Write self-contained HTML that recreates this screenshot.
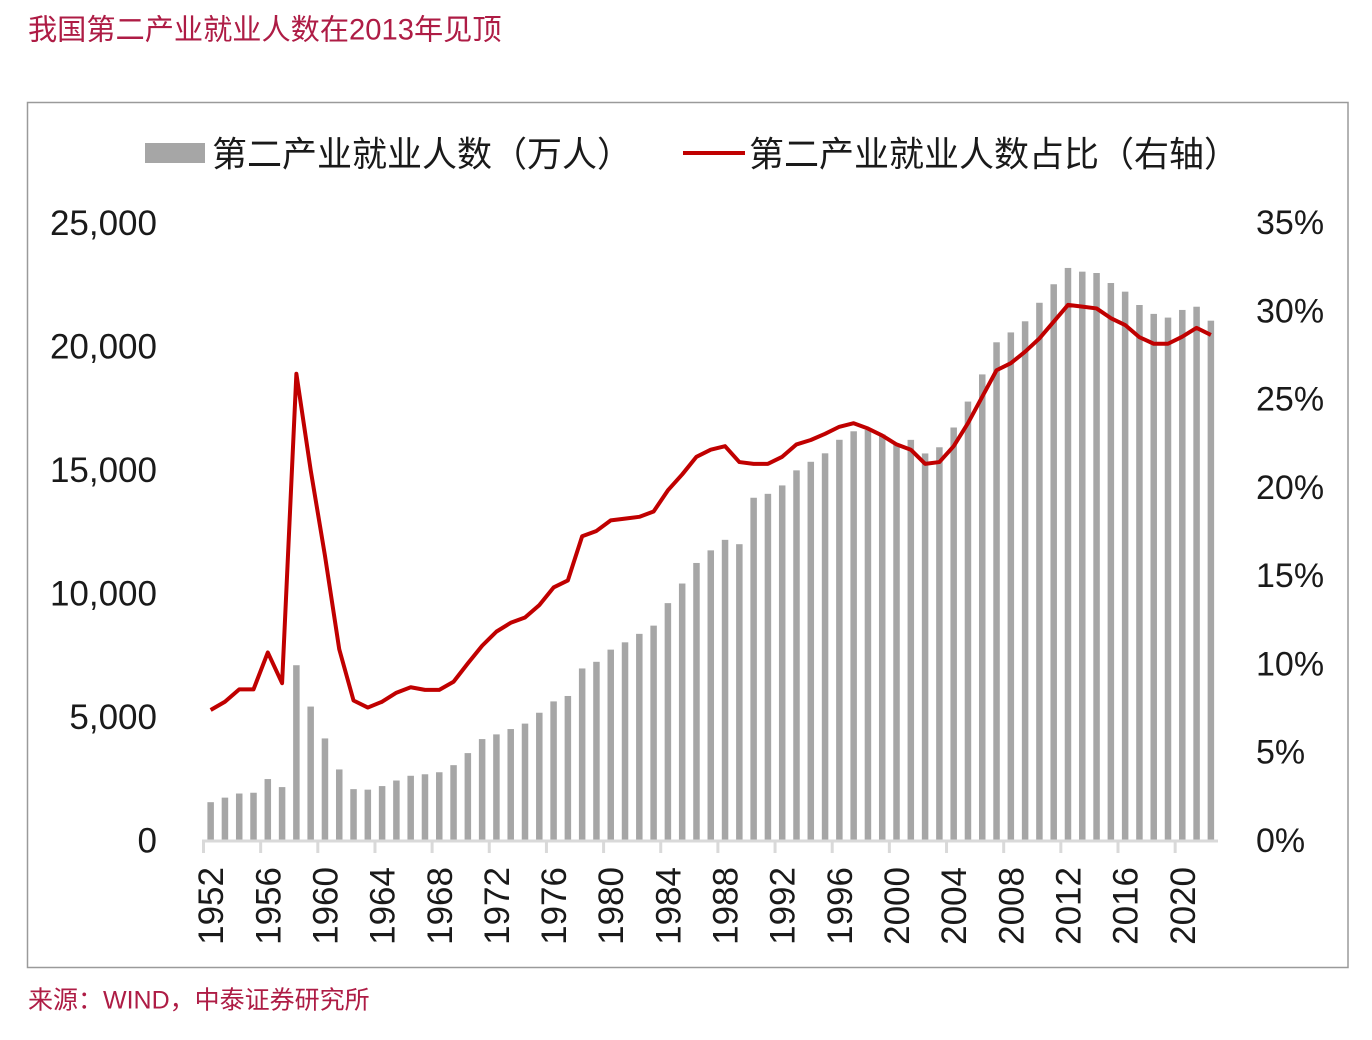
<!DOCTYPE html>
<html>
<head>
<meta charset="utf-8">
<style>
  html,body{margin:0;padding:0;background:#ffffff;}
  body{width:1372px;height:1040px;overflow:hidden;}
  svg{display:block;}
  .t{font-family:"Liberation Sans","Noto Sans CJK SC",sans-serif;}
</style>
</head>
<body>
<svg width="1372" height="1040" viewBox="0 0 1372 1040" xmlns="http://www.w3.org/2000/svg">
  <rect x="0" y="0" width="1372" height="1040" fill="#ffffff"/>

  <text class="t" x="28" y="39.5" font-size="29.2" fill="#ae1c45">我国第二产业就业人数在2013年见顶</text>

  <rect x="27.5" y="102.5" width="1320.5" height="865" fill="none" stroke="#9a9a9a" stroke-width="1.5"/>

  <rect x="145" y="143" width="60" height="20" fill="#a6a6a6"/>
  <text class="t" x="212" y="166.5" font-size="35" fill="#1a1a1a">第二产业就业人数（万人）</text>
  <line x1="683" y1="153" x2="745" y2="153" stroke="#c00000" stroke-width="4"/>
  <text class="t" x="749" y="166.5" font-size="35" fill="#1a1a1a">第二产业就业人数占比（右轴）</text>

  <g class="t" font-size="35" fill="#1a1a1a" text-anchor="end">
    <text x="157" y="235">25,000</text>
    <text x="157" y="358.5">20,000</text>
    <text x="157" y="482">15,000</text>
    <text x="157" y="605.5">10,000</text>
    <text x="157" y="729">5,000</text>
    <text x="157" y="852.5">0</text>
  </g>

  <g class="t" font-size="34" fill="#1a1a1a" text-anchor="start">
    <text x="1256" y="234">35%</text>
    <text x="1256" y="322.5">30%</text>
    <text x="1256" y="410.5">25%</text>
    <text x="1256" y="499">20%</text>
    <text x="1256" y="587">15%</text>
    <text x="1256" y="675.5">10%</text>
    <text x="1256" y="763.5">5%</text>
    <text x="1256" y="852">0%</text>
  </g>

  <g transform="translate(203.5,840) scale(14.289,-0.0247)" fill="#a6a6a6">
    <rect x="0.2725" width="0.455" height="1531"/>
    <rect x="1.2725" width="0.455" height="1715"/>
    <rect x="2.2725" width="0.455" height="1882"/>
    <rect x="3.2725" width="0.455" height="1913"/>
    <rect x="4.2725" width="0.455" height="2468"/>
    <rect x="5.2725" width="0.455" height="2142"/>
    <rect x="6.2725" width="0.455" height="7076"/>
    <rect x="7.2725" width="0.455" height="5402"/>
    <rect x="8.2725" width="0.455" height="4112"/>
    <rect x="9.2725" width="0.455" height="2856"/>
    <rect x="10.2725" width="0.455" height="2059"/>
    <rect x="11.2725" width="0.455" height="2038"/>
    <rect x="12.2725" width="0.455" height="2183"/>
    <rect x="13.2725" width="0.455" height="2408"/>
    <rect x="14.2725" width="0.455" height="2600"/>
    <rect x="15.2725" width="0.455" height="2661"/>
    <rect x="16.2725" width="0.455" height="2743"/>
    <rect x="17.2725" width="0.455" height="3030"/>
    <rect x="18.2725" width="0.455" height="3518"/>
    <rect x="19.2725" width="0.455" height="4086"/>
    <rect x="20.2725" width="0.455" height="4276"/>
    <rect x="21.2725" width="0.455" height="4492"/>
    <rect x="22.2725" width="0.455" height="4712"/>
    <rect x="23.2725" width="0.455" height="5152"/>
    <rect x="24.2725" width="0.455" height="5611"/>
    <rect x="25.2725" width="0.455" height="5831"/>
    <rect x="26.2725" width="0.455" height="6945"/>
    <rect x="27.2725" width="0.455" height="7214"/>
    <rect x="28.2725" width="0.455" height="7707"/>
    <rect x="29.2725" width="0.455" height="8003"/>
    <rect x="30.2725" width="0.455" height="8346"/>
    <rect x="31.2725" width="0.455" height="8679"/>
    <rect x="32.2725" width="0.455" height="9590"/>
    <rect x="33.2725" width="0.455" height="10384"/>
    <rect x="34.2725" width="0.455" height="11216"/>
    <rect x="35.2725" width="0.455" height="11726"/>
    <rect x="36.2725" width="0.455" height="12152"/>
    <rect x="37.2725" width="0.455" height="11976"/>
    <rect x="38.2725" width="0.455" height="13856"/>
    <rect x="39.2725" width="0.455" height="14015"/>
    <rect x="40.2725" width="0.455" height="14355"/>
    <rect x="41.2725" width="0.455" height="14965"/>
    <rect x="42.2725" width="0.455" height="15312"/>
    <rect x="43.2725" width="0.455" height="15655"/>
    <rect x="44.2725" width="0.455" height="16203"/>
    <rect x="45.2725" width="0.455" height="16547"/>
    <rect x="46.2725" width="0.455" height="16600"/>
    <rect x="47.2725" width="0.455" height="16421"/>
    <rect x="48.2725" width="0.455" height="16000"/>
    <rect x="49.2725" width="0.455" height="16200"/>
    <rect x="50.2725" width="0.455" height="15650"/>
    <rect x="51.2725" width="0.455" height="15900"/>
    <rect x="52.2725" width="0.455" height="16700"/>
    <rect x="53.2725" width="0.455" height="17750"/>
    <rect x="54.2725" width="0.455" height="18850"/>
    <rect x="55.2725" width="0.455" height="20150"/>
    <rect x="56.2725" width="0.455" height="20550"/>
    <rect x="57.2725" width="0.455" height="21000"/>
    <rect x="58.2725" width="0.455" height="21750"/>
    <rect x="59.2725" width="0.455" height="22500"/>
    <rect x="60.2725" width="0.455" height="23160"/>
    <rect x="61.2725" width="0.455" height="23010"/>
    <rect x="62.2725" width="0.455" height="22955"/>
    <rect x="63.2725" width="0.455" height="22550"/>
    <rect x="64.2725" width="0.455" height="22200"/>
    <rect x="65.2725" width="0.455" height="21660"/>
    <rect x="66.2725" width="0.455" height="21300"/>
    <rect x="67.2725" width="0.455" height="21150"/>
    <rect x="68.2725" width="0.455" height="21460"/>
    <rect x="69.2725" width="0.455" height="21590"/>
    <rect x="70.2725" width="0.455" height="21025"/>
  </g>

  <g stroke="#d9d9d9" stroke-width="3" fill="none">
    <line x1="202" y1="841" x2="1218" y2="841"/>
    <line x1="203.5" y1="840" x2="203.5" y2="853"/>
    <line x1="260.66" y1="840" x2="260.66" y2="853"/>
    <line x1="317.81" y1="840" x2="317.81" y2="853"/>
    <line x1="374.97" y1="840" x2="374.97" y2="853"/>
    <line x1="432.12" y1="840" x2="432.12" y2="853"/>
    <line x1="489.28" y1="840" x2="489.28" y2="853"/>
    <line x1="546.44" y1="840" x2="546.44" y2="853"/>
    <line x1="603.59" y1="840" x2="603.59" y2="853"/>
    <line x1="660.75" y1="840" x2="660.75" y2="853"/>
    <line x1="717.9" y1="840" x2="717.9" y2="853"/>
    <line x1="775.06" y1="840" x2="775.06" y2="853"/>
    <line x1="832.22" y1="840" x2="832.22" y2="853"/>
    <line x1="889.37" y1="840" x2="889.37" y2="853"/>
    <line x1="946.53" y1="840" x2="946.53" y2="853"/>
    <line x1="1003.68" y1="840" x2="1003.68" y2="853"/>
    <line x1="1060.84" y1="840" x2="1060.84" y2="853"/>
    <line x1="1118.0" y1="840" x2="1118.0" y2="853"/>
    <line x1="1175.15" y1="840" x2="1175.15" y2="853"/>
  </g>

  <g transform="translate(203.5,840) scale(14.289,-17.66)">
    <polyline fill="none" stroke="#c00000" stroke-width="4" stroke-linejoin="round" vector-effect="non-scaling-stroke"
      points="0.5,7.36 1.5,7.83 2.5,8.53 3.5,8.53 4.5,10.62 5.5,8.88 6.5,26.4 7.5,20.95 8.5,16.1 9.5,10.8 10.5,7.9 11.5,7.5 12.5,7.83 13.5,8.34 14.5,8.65 15.5,8.5 16.5,8.5 17.5,8.96 18.5,10.0 19.5,11.0 20.5,11.8 21.5,12.3 22.5,12.6 23.5,13.3 24.5,14.3 25.5,14.7 26.5,17.2 27.5,17.5 28.5,18.1 29.5,18.2 30.5,18.3 31.5,18.6 32.5,19.8 33.5,20.7 34.5,21.7 35.5,22.1 36.5,22.3 37.5,21.4 38.5,21.3 39.5,21.3 40.5,21.7 41.5,22.4 42.5,22.65 43.5,23.0 44.5,23.4 45.5,23.6 46.5,23.3 47.5,22.9 48.5,22.4 49.5,22.1 50.5,21.3 51.5,21.4 52.5,22.3 53.5,23.6 54.5,25.1 55.5,26.6 56.5,27.0 57.5,27.65 58.5,28.4 59.5,29.35 60.5,30.3 61.5,30.2 62.5,30.1 63.5,29.55 64.5,29.16 65.5,28.47 66.5,28.1 67.5,28.1 68.5,28.5 69.5,29.0 70.5,28.6"/>
  </g>

  <g class="t" font-size="35" fill="#1a1a1a" text-anchor="end">
    <text transform="translate(223.1,867) rotate(-90)">1952</text>
    <text transform="translate(280.3,867) rotate(-90)">1956</text>
    <text transform="translate(337.5,867) rotate(-90)">1960</text>
    <text transform="translate(394.6,867) rotate(-90)">1964</text>
    <text transform="translate(451.8,867) rotate(-90)">1968</text>
    <text transform="translate(508.9,867) rotate(-90)">1972</text>
    <text transform="translate(566.1,867) rotate(-90)">1976</text>
    <text transform="translate(623.2,867) rotate(-90)">1980</text>
    <text transform="translate(680.4,867) rotate(-90)">1984</text>
    <text transform="translate(737.6,867) rotate(-90)">1988</text>
    <text transform="translate(794.7,867) rotate(-90)">1992</text>
    <text transform="translate(851.9,867) rotate(-90)">1996</text>
    <text transform="translate(909.0,867) rotate(-90)">2000</text>
    <text transform="translate(966.2,867) rotate(-90)">2004</text>
    <text transform="translate(1023.3,867) rotate(-90)">2008</text>
    <text transform="translate(1080.5,867) rotate(-90)">2012</text>
    <text transform="translate(1137.7,867) rotate(-90)">2016</text>
    <text transform="translate(1194.8,867) rotate(-90)">2020</text>
  </g>

  <text class="t" x="28" y="1008.5" font-size="25" fill="#ae1c45">来源：WIND，中泰证券研究所</text>
</svg>
</body>
</html>
